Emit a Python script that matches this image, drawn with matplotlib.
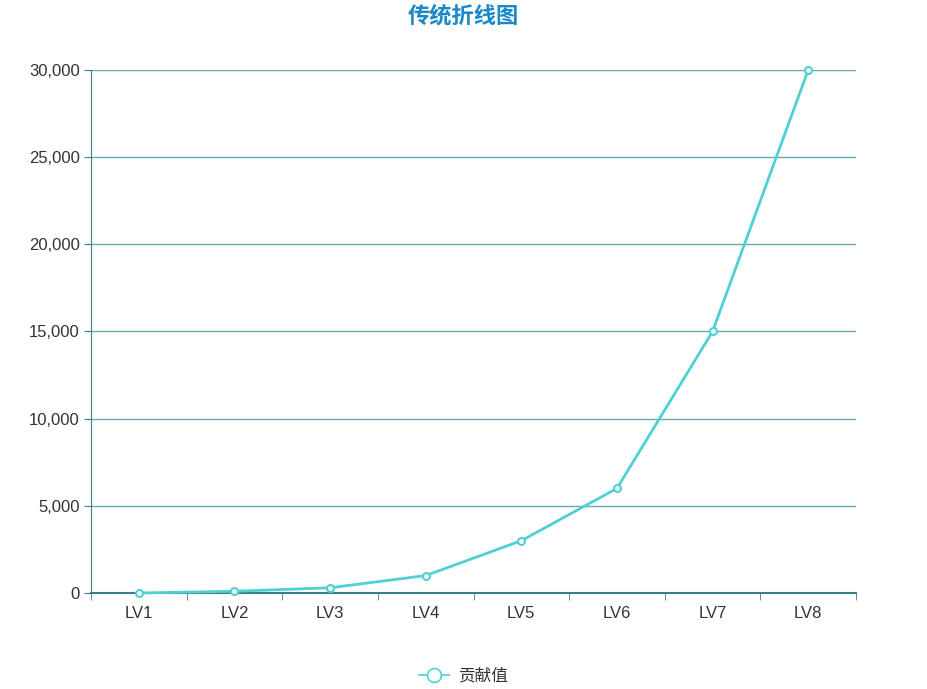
import matplotlib
matplotlib.use("Agg")
import matplotlib.pyplot as plt
from matplotlib.lines import Line2D
from matplotlib.ticker import FuncFormatter
import numpy as np

plt.rcParams["font.family"] = ["Liberation Sans", "Noto Sans CJK SC", "DejaVu Sans"]

LEVELS = ["LV1", "LV2", "LV3", "LV4", "LV5", "LV6", "LV7", "LV8"]
CONTRIB = [0, 100, 300, 1000, 3000, 6000, 15000, 30000]
Y_TICKS = [0, 5000, 10000, 15000, 20000, 25000, 30000]

LINE_COLOR = "#4fd1d3"
AXIS_COLOR = "#3e7f86"
GRID_COLOR = "#6aa7ab"

fig = plt.figure(figsize=(9.27, 6.89), dpi=100)
ax = fig.add_axes([91 / 927, 1 - 593 / 689, (856 - 91) / 927, (593 - 70) / 689])

x = np.arange(len(LEVELS))
ax.plot(x, CONTRIB, color=LINE_COLOR, lw=2, marker="o", ms=5,
        mfc="white", mec=LINE_COLOR, mew=1.5, zorder=3, clip_on=False)

ax.set_xlim(-0.5, len(LEVELS) - 0.5)
ax.set_ylim(0, 30000)
ax.set_yticks(Y_TICKS)
ax.yaxis.set_major_formatter(FuncFormatter(lambda v, _: f"{int(v):,}"))
ax.set_xticks(x)
ax.set_xticklabels(LEVELS)
ax.set_xticks(np.arange(len(LEVELS) + 1) - 0.5, minor=True)
ax.tick_params(axis="x", which="major", length=0, pad=9, labelsize=12, colors="#333333")
ax.tick_params(axis="x", which="minor", length=5, color=AXIS_COLOR, direction="out")
ax.tick_params(axis="y", length=5, color=AXIS_COLOR, labelsize=12, labelcolor="#333333", pad=3)

ax.grid(axis="y", color=GRID_COLOR, lw=1)
ax.set_axisbelow(True)
for side in ["top", "right"]:
    ax.spines[side].set_visible(False)
ax.spines["left"].set_color(AXIS_COLOR)
ax.spines["bottom"].set_color(AXIS_COLOR)
ax.spines["bottom"].set_linewidth(1.5)

fig.text(0.5, 1 - 17 / 689, "传统折线图", ha="center", va="center",
         fontsize=16, fontweight="bold", color="#1a88c9")

handle = Line2D([], [], color=LINE_COLOR, lw=1.2, marker="o", ms=10,
                mfc="white", mec=LINE_COLOR, mew=1.2)
fig.legend([handle], ["贡献值"], loc="center", bbox_to_anchor=(0.5, 1 - 676 / 689),
           frameon=False, fontsize=12, handlelength=1.8, handletextpad=0.5,
           labelcolor="#333333")

fig.savefig("out.png", dpi=100)
